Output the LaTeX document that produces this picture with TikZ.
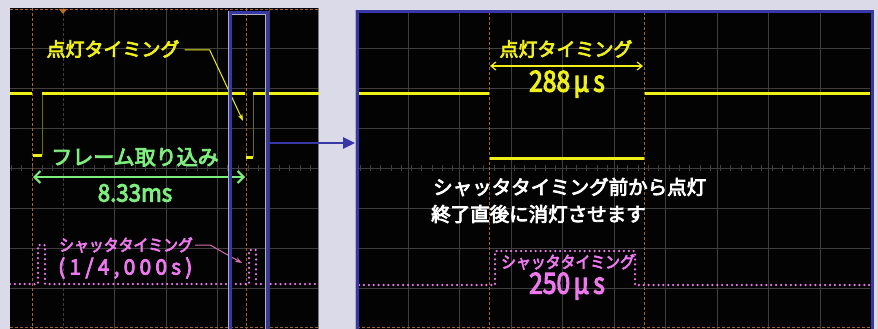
\documentclass[tikz,border=0pt]{standalone}
\usepackage{fontspec}
\newfontfamily\jp{Noto Sans CJK JP}[FakeBold=4]
\newfontfamily\jpls{Noto Sans CJK JP}[FakeBold=4,LetterSpace=20]
\usetikzlibrary{arrows.meta}
\definecolor{bgc}{RGB}{218,218,232}
\definecolor{scopeblk}{RGB}{3,3,3}
\definecolor{gridc}{RGB}{62,62,62}
\definecolor{curc}{RGB}{165,100,45}
\definecolor{ylw}{RGB}{240,240,25}
\definecolor{grn}{RGB}{125,238,125}
\definecolor{pnk}{RGB}{238,120,238}
\definecolor{pnkline}{RGB}{215,110,180}
\definecolor{selblue}{RGB}{55,55,165}
\definecolor{edgegray}{RGB}{175,175,190}
\begin{document}
\begin{tikzpicture}[x=1pt,y=-1pt,
  gridline/.style={draw=gridc,line width=0.9pt},
  tickline/.style={draw=gridc,line width=0.8pt},
  cursor/.style={draw=curc,line width=1pt,dash pattern=on 3pt off 2pt},
  ytrace/.style={draw=ylw,line width=3pt},
  ythin/.style={draw=ylw!45!black,line width=0.7pt},
  ptrace/.style={draw=pnk,line width=2.5pt,line cap=round,dash pattern=on 0pt off 4.9pt},
  lbl/.style={inner sep=0pt},
  selbox/.style={draw=selblue,line width=3pt},
  seledge/.style={draw=edgegray,line width=4pt},
  yleader/.style={draw=ylw,line width=1pt,-{Stealth[length=7pt,width=5pt]}},
  pleader/.style={draw=pnkline,line width=1pt,-{Stealth[length=7pt,width=5pt]}},
  garrow/.style={draw=grn,line width=2pt,{Straight Barb[length=6pt,width=12pt]}-{Straight Barb[length=6pt,width=12pt]}},
  yarrow/.style={draw=ylw,line width=1.2pt,{Straight Barb[length=5pt,width=8pt]}-{Straight Barb[length=5pt,width=8pt]}},
  barrow/.style={draw=selblue,line width=2.6pt,-{Triangle[length=12pt,width=11pt]}},
  fbig/.style={font={\jp\fontsize{19}{21}\selectfont}},
  fgreen/.style={font={\jp\fontsize{21}{23}\selectfont}},
  fnum/.style={font={\jp\fontsize{24}{26}\selectfont}},
  fnumbig/.style={font={\jp\fontsize{29}{31}\selectfont}},
  fpink/.style={font={\jp\fontsize{16.5}{18}\selectfont}},
  fpinkb/.style={font={\jpls\fontsize{21}{23}\selectfont}},
  fwhite/.style={font={\jp\fontsize{19.5}{21}\selectfont}}
]
\useasboundingbox (0,0) rectangle (878,329);
\fill[bgc] (0,0) rectangle (878,329);

% ---------------- left scope panel ----------------
\fill[scopeblk] (10,8) rectangle (319,329);
\begin{scope}
\clip (10,8) rectangle (319,329);
\foreach \gx in {114.5,166,217.5,269} \draw[gridline] (\gx,8) -- (\gx,329);
\draw[gridline,dash pattern=on 3pt off 2pt] (63,8) -- (63,329);
\foreach \gy in {48,88,128,168,208,248,288} \draw[gridline] (10,\gy) -- (319,\gy);
\foreach \tx in {0,...,30} \draw[tickline] (11.5+\tx*10.3,165) -- (11.5+\tx*10.3,171);
\draw[cursor] (10,10) -- (319,10);
\draw[cursor] (10,327) -- (319,327);
\draw[draw=gridc!70!white,line width=1pt] (318.5,8) -- (318.5,329);
\draw[cursor] (32,8) -- (32,329);
\draw[cursor] (246,8) -- (246,329);
\fill[curc!70!orange] (59,9) -- (67,9) -- (63,14) -- cycle;
% yellow trace
\draw[ytrace] (10,93) -- (32,93);
\draw[ytrace] (33,155) -- (42,155);
\draw[ythin] (42,155) -- (42,93);
\draw[ytrace] (42,93) -- (245,93);
\draw[ytrace] (246,157) -- (253,157);
\draw[ythin] (253,157) -- (253,93);
\draw[ytrace] (253,93) -- (319,93);
% pink shutter trace
\draw[ptrace] (10,284) -- (38,284) -- (38,245) -- (45,245) -- (45,284) -- (249,284) -- (249,250) -- (256,250) -- (256,284) -- (320,284);
\end{scope}

% labels left
\node[lbl,fbig,text=ylw] (ltimL) at (113,49) {点灯タイミング};
\coordinate (ltipL) at (243,121);
\draw[yleader] ([xshift=5pt,yshift=-1pt]ltimL.east) -- ++(25,0) -- (ltipL);

\node[lbl,fgreen,text=grn] (frame) at (135,157) {フレーム取り込み};
\coordinate (fa) at (33,177);
\coordinate (fb) at (245,177);
\draw[garrow] (fa) -- (fb);
\node[lbl,fnum,text=grn] (t833) at (135,193) {\scalebox{0.93}[1]{8.33ms}};

\node[lbl,fpink,text=pnk,anchor=west] (shutL) at (59,245) {\scalebox{0.9}[1]{シャッタタイミング}};
\node[lbl,fpinkb,text=pnk,anchor=west] (shutLb) at (58,268) {(1/4,000s)};
\coordinate (ptipL) at (242,263);
\draw[pleader] ([xshift=2pt]shutL.east) -- ++(15,0) -- (ptipL);

% selection box
\coordinate (selA) at (230,13);
\coordinate (selB) at (267,340);
\draw[seledge] (selA) rectangle (selB);
\draw[selbox] (selA) rectangle (selB);
\coordinate (bs) at (268,143);

% ---------------- right scope panel ----------------
\coordinate (rpA) at (357,12);
\coordinate (rpB) at (872,340);
\draw[seledge] (rpA) rectangle (rpB);
\fill[scopeblk] (rpA) rectangle (rpB);
\begin{scope}
\clip (359,14) rectangle (870,329);
\foreach \gx in {408,459.5,511,562.5,614,665.5,717,768.5,820} \draw[gridline] (\gx,12) -- (\gx,329);
\foreach \gy in {48,88,128,168,208,248,288} \draw[gridline] (357,\gy) -- (872,\gy);
\foreach \tx in {0,...,50} \draw[tickline] (360+\tx*10.3,165) -- (360+\tx*10.3,171);
\draw[cursor] (357,327) -- (872,327);
\draw[ytrace] (359,93) -- (489,93);
\draw[ytrace] (489,158) -- (644,158);
\draw[ytrace] (644,93) -- (870,93);
\draw[cursor] (489,12) -- (489,329);
\draw[cursor] (644,12) -- (644,329);
\draw[ptrace] (359,285) -- (495,285) -- (495,251) -- (635,251) -- (635,285) -- (870,285);
\end{scope}
\draw[selbox] (rpA) rectangle (rpB);
\coordinate (pe) at (355,143);
\draw[barrow] (bs) -- (pe);

% labels right
\node[lbl,fbig,text=ylw] (ltimR) at (566,49) {点灯タイミング};
\coordinate (ya) at (490,66);
\coordinate (yb) at (643,66);
\draw[yarrow] (ya) -- (yb);
\node[lbl,fnumbig,text=ylw] (t288) at (567,84) {\scalebox{0.85}[1]{288\kern4pt μ\kern5pt s}};

\node[lbl,fwhite,text=white,anchor=west] (w1) at (433,187) {シャッタタイミング前から点灯};
\node[lbl,fwhite,text=white,anchor=west] (w2) at (431,214) {終了直後に消灯させます};

\node[lbl,fpink,text=pnk] (shutR) at (568,262) {\scalebox{0.9}[1]{シャッタタイミング}};
\node[lbl,fnumbig,text=pnk] (t250) at (567,286) {\scalebox{0.85}[1]{250\kern4pt μ\kern5pt s}};
\end{tikzpicture}
\end{document}
